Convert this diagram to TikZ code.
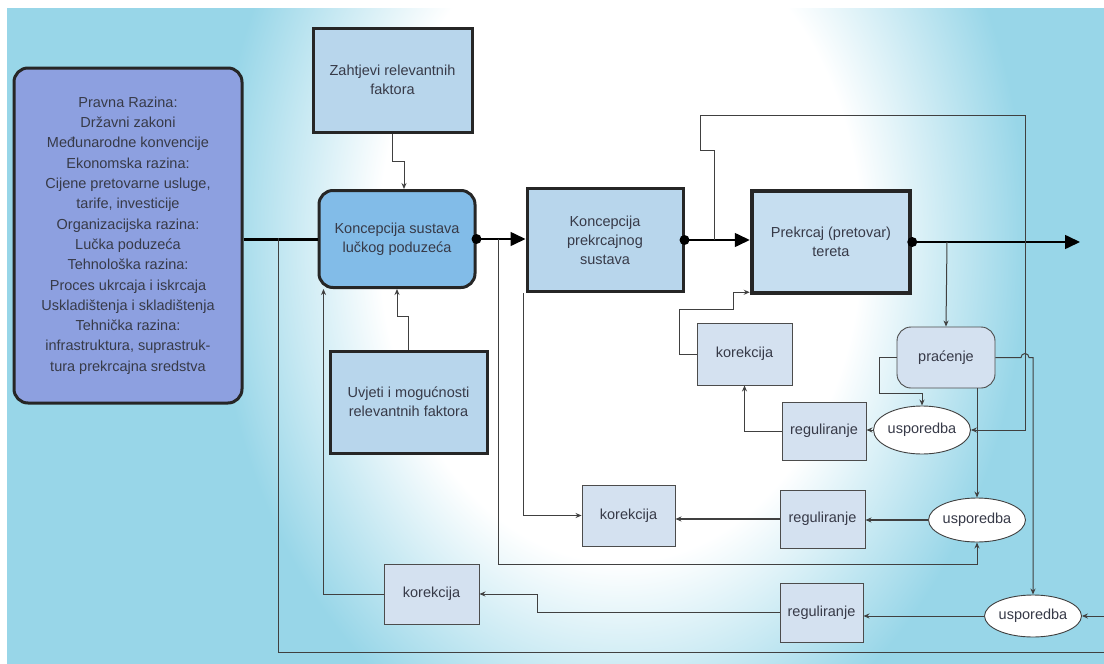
\documentclass[tikz,border=0pt]{standalone}
\usepackage{fontspec}
\setmainfont{Liberation Sans}
\usetikzlibrary{calc, arrows.meta, shapes.geometric}

\definecolor{bgcyan}{RGB}{152,214,232}
\definecolor{leftblue}{RGB}{141,160,224}
\definecolor{midblue}{RGB}{130,188,232}
\definecolor{lightblue}{RGB}{184,214,236}
\definecolor{paleblue}{RGB}{212,225,240}
\definecolor{inkgray}{RGB}{55,58,72}

\pgfdeclareradialshading{bgglow}{\pgfpoint{0bp}{0bp}}{color(0bp)=(white); color(16bp)=(white); color(27bp)=(bgcyan); color(50bp)=(bgcyan)}

\begin{document}
\begin{tikzpicture}[x=1pt, y=-1pt,
    font=\fontsize{14.5}{19}\selectfont, text=inkgray,
    bigbox/.style={draw=black!85, line width=3pt, fill=lightblue, align=center, inner sep=2pt},
    roundbox/.style={bigbox, rounded corners=14pt},
    smallbox/.style={draw=black!70, line width=0.9pt, fill=paleblue, align=center},
    cmp/.style={ellipse, draw=black!75, line width=0.9pt, fill=white, inner sep=0pt},
    wire/.style={draw=black!75, line width=1pt},
    link/.style={wire, -{Stealth[length=6pt,width=5pt]}},
    flow/.style={line width=1.6pt, -{Triangle[length=15pt,width=14pt]}},
    dot/.style={circle, fill=black, inner sep=0pt, minimum size=10pt}]

  % background
  \useasboundingbox (0,0) rectangle (1104,664);
  \fill[white] (0,0) rectangle (1104,664);
  \begin{scope}
    \clip (7,8) rectangle (1104,664);
    \fill[bgcyan] (7,8) rectangle (1104,664);
    \pgftransformshift{\pgfpointxy{620}{240}}
    \pgftransformxscale{15}
    \pgftransformyscale{20}
    \pgflowlevelsynccm
    \pgfuseshading{bgglow}
  \end{scope}

  % main boxes
  \node[roundbox, fill=leftblue, minimum width=228, minimum height=335,
        font=\fontsize{14.5}{20.3}\selectfont] (pravna) at (128,235.5)
    {Pravna Razina:\\Državni zakoni\\Međunarodne konvencije\\Ekonomska razina:\\
     Cijene pretovarne usluge,\\tarife, investicije\\Organizacijska razina:\\Lučka poduzeća\\
     Tehnološka razina:\\Proces ukrcaja i iskrcaja\\Uskladištenja i skladištenja\\
     Tehnička razina:\\infrastruktura, suprastruk-\\tura prekrcajna sredstva};
  \node[bigbox, minimum width=159, minimum height=104] (zahtjevi) at (392.5,80)
    {Zahtjevi relevantnih\\faktora};
  \node[roundbox, fill=midblue, minimum width=156, minimum height=97] (konsust) at (397,239)
    {Koncepcija sustava\\lučkog poduzeća};
  \node[bigbox, minimum width=156, minimum height=103] (konprek) at (605,240)
    {Koncepcija\\prekrcajnog\\sustava};
  \node[bigbox, line width=4.5pt, fill=lightblue!80!white, minimum width=158, minimum height=102]
    (prekrcaj) at (831,242) {Prekrcaj (pretovar)\\tereta};
  \node[bigbox, minimum width=157, minimum height=102] (uvjeti) at (408.5,402)
    {Uvjeti i mogućnosti\\relevantnih faktora};

  % control loop boxes
  \node[smallbox, rounded corners=14pt, minimum width=98, minimum height=61] (pracenje) at (946,357.5) {praćenje};
  \node[smallbox, minimum width=95, minimum height=62] (kor1) at (744.5,354) {korekcija};
  \node[smallbox, minimum width=84, minimum height=58] (reg1) at (824,431) {reguliranje};
  \node[cmp, minimum width=80, minimum height=48] (usp1) at (922,430) {usporedba};
  \node[smallbox, minimum width=93, minimum height=61] (kor2) at (628.5,515.5) {korekcija};
  \node[smallbox, minimum width=85, minimum height=58] (reg2) at (822.5,519) {reguliranje};
  \node[cmp, minimum width=80, minimum height=44] (usp2) at (977,520) {usporedba};
  \node[smallbox, minimum width=95, minimum height=60] (kor3) at (431.5,594) {korekcija};
  \node[smallbox, minimum width=83, minimum height=59] (reg3) at (821.5,612.5) {reguliranje};
  \node[cmp, minimum width=80, minimum height=42] (usp3) at (1033,616) {usporedba};

  % junctions and free ends
  \coordinate (j0) at (278,238);
  \coordinate (j1) at (498,239);
  \coordinate (j2) at (714,240);
  \coordinate (j3) at (947,242);
  \coordinate (loopx) at (1025,115);
  \coordinate (out) at (1080,242);
  \coordinate (inR) at (1104,616);
  \coordinate (botR) at (1104,652);

  % main flow
  \draw[line width=3pt] (konsust.west -| pravna.east) -- (konsust.west);
  \draw[wire] (j0) |- (botR);
  \draw[flow] (konsust.east) -- (konsust.east -| konprek.west);
  \draw[flow] (konprek.east) -- (konprek.east -| prekrcaj.west);
  \draw[flow] (prekrcaj.east) -- (out);
  \node[dot] at (konsust.east) {};
  \node[dot] at (konprek.east) {};
  \node[dot] at (prekrcaj.east) {};

  % inputs to Koncepcija sustava
  \draw[link] (zahtjevi.south) -- ++(0,28) -| ($(konsust.north)+(7,0)$);
  \draw[link] (uvjeti.north) -- ++(0,-33) -| (konsust.south);
  \draw[link] (kor3.west) -| ($(konsust.south west)+(6,0)$);

  % feedback wires
  \draw[link] (j1) |- ($(usp2.south)+(0,22)$) -- (usp2.south);
  \draw[link] (j2) -- ++(0,-90) -- ++(-14,0) |- (loopx) |- (usp1.east);
  \draw[link] (j3) -- (pracenje.north);
  \draw[link] (pracenje.west) -- ++(-17,0) |- ($(usp1.north)+(0,-12)$) -- (usp1.north);
  \draw[link] (pracenje.east) -- ($(pracenje.east -| loopx)+(-4,0)$)
    arc[start angle=180, end angle=360, radius=4] -| (usp3.north);
  \draw[link] (pracenje.south -| usp2.north) -- (usp2.north);
  \draw[link] (usp1.west) -- (usp1.west -| reg1.east);
  \draw[link] (reg1.west) -| (kor1.south);
  \draw[link] (kor1.west) -- ++(-17,0) -- ++(0,-45) -- ++(54,0) |- ($(prekrcaj.south west)+(0,-3)$);
  \draw[link, line width=1.6pt] (usp2.west) -- (usp2.west -| reg2.east);
  \draw[link, line width=1.4pt] (reg2.west) -- (reg2.west -| kor2.east);
  \draw[link] ($(konprek.south west)+(-2,0)$) |- (kor2.west);
  \draw[link] (usp3.west) -- (usp3.west -| reg3.east);
  \draw[link] (reg3.west) -- ++(-242,0) |- (kor3.east);
  \draw[link] (inR) -- (usp3.east);
\end{tikzpicture}
\end{document}
